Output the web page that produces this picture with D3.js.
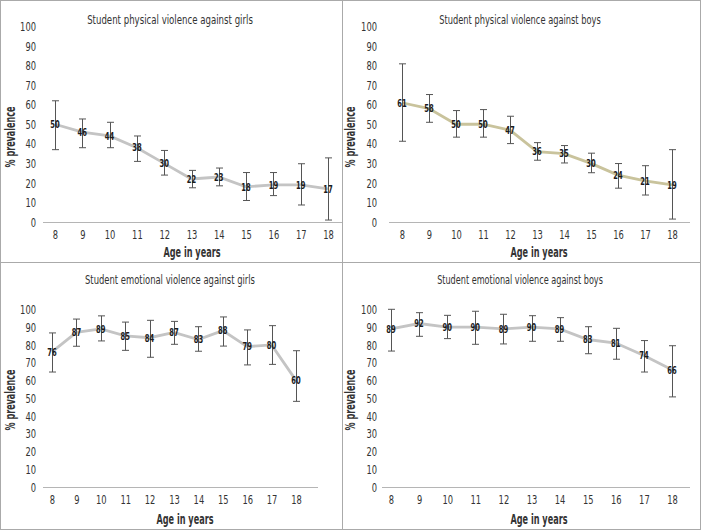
<!DOCTYPE html>
<html>
<head>
<meta charset="utf-8">
<script src="https://cdn.jsdelivr.net/npm/d3@7"></script>
<style>
  body { margin: 0; background: #fff; }
  svg { display: block; }
  text { font-family: 'Liberation Sans Narrow', 'DejaVu Sans Condensed', 'Roboto', sans-serif; }
</style>
</head>
<body>
<svg id="chart" width="701" height="530"></svg>
<script>
// ---- Data ----
const ages = ["8", "9", "10", "11", "12", "13", "14", "15", "16", "17", "18"];
const yTicks = [0, 10, 20, 30, 40, 50, 60, 70, 80, 90, 100];

const titles = [
  "Student physical violence against girls",
  "Student physical violence against boys",
  "Student emotional violence against girls",
  "Student emotional violence against boys"
];

const physGirls      = [50, 46, 44, 38, 30, 22, 23, 18, 19, 19, 17];
const physGirlsLow   = [37, 38, 38, 31, 24, 17.5, 18.5, 11, 13.5, 8.7, 1];
const physGirlsHigh  = [62, 52.7, 51, 44, 36.6, 26.4, 27.6, 25.3, 25.3, 29.8, 32.8];

const physBoys       = [61, 58, 50, 50, 47, 36, 35, 30, 24, 21, 19];
const physBoysLow    = [41.3, 51, 43.4, 43.4, 40.1, 31.6, 30.2, 25.2, 17.3, 13.8, 1.5];
const physBoysHigh   = [80.9, 65.2, 57, 57.5, 54.1, 40.6, 39.1, 35.2, 29.9, 28.8, 37];

const emoGirls       = [76, 87, 89, 85, 84, 87, 83, 88, 79, 80, 60];
const emoGirlsLow    = [64.7, 79.2, 82.2, 76.9, 73, 80.3, 76.4, 79.3, 68.7, 69, 48.2];
const emoGirlsHigh   = [86.7, 94.5, 96.3, 92.8, 93.8, 93.2, 90.2, 95.7, 88.4, 90.8, 76.7];

const emoBoys        = [89, 92, 90, 90, 89, 90, 89, 83, 81, 74, 66];
const emoBoysLow     = [76.5, 84.8, 83.5, 80.3, 80.5, 82, 82, 75, 71.9, 64.7, 50.7];
const emoBoysHigh    = [100, 98.1, 96.6, 98.9, 97.2, 96.4, 95.3, 90.2, 89.3, 82.4, 79.5];

const seriesValues = [physGirls, physBoys, emoGirls, emoBoys];
const seriesLow    = [physGirlsLow, physBoysLow, emoGirlsLow, emoBoysLow];
const seriesHigh   = [physGirlsHigh, physBoysHigh, emoGirlsHigh, emoBoysHigh];
const lineColors   = ["#c4c4c4", "#c9c39c", "#c4c4c4", "#c4c4c4"];

// ---- Layout (per panel) ----
const layouts = [
  { x0: 55,  x1: 328, y0: 222, y100: 26.5, axisL: 43,  axisR: 343, tickR: 36,  title: [170, 19],  xTitle: [192, 252], yTitle: [15, 137] },
  { x0: 402, x1: 672, y0: 222, y100: 26.5, axisL: 389, axisR: 690, tickR: 377, title: [520, 19],  xTitle: [539, 252], yTitle: [355, 137] },
  { x0: 52,  x1: 296, y0: 487, y100: 309.3, axisL: 43, axisR: 318, tickR: 36,  title: [170, 279], xTitle: [185, 519], yTitle: [15, 400] },
  { x0: 391, x1: 672, y0: 487, y100: 309.3, axisL: 382, axisR: 690, tickR: 377, title: [520, 279], xTitle: [539, 519], yTitle: [355, 400] }
];

const FONT = "'Liberation Sans Narrow', 'DejaVu Sans Condensed', sans-serif";
const svg = d3.select("#chart");

function squeeze(sel, perChar) {
  sel.each(function () {
    const t = d3.select(this);
    const n = t.text().length;
    t.attr("textLength", n * perChar).attr("lengthAdjust", "spacingAndGlyphs");
  });
}

layouts.forEach((L, i) => {
  const g = svg.append("g");
  const x = d3.scalePoint().domain(ages).range([L.x0, L.x1]);
  const y = d3.scaleLinear().domain([0, 100]).range([L.y0, L.y100]);

  // title
  g.append("text").attr("x", L.title[0]).attr("y", L.title[1] + 5)
    .attr("text-anchor", "middle").attr("font-size", 13).attr("fill", "#333")
    .text(titles[i])
    .call(s => squeeze(s, 4.25));

  // y axis (labels only)
  const ya = g.append("g").attr("transform", `translate(${L.tickR},0)`)
    .call(d3.axisLeft(y).tickValues(yTicks).tickSize(0).tickPadding(0));
  ya.select(".domain").remove();
  ya.selectAll("text").attr("font-size", 13).attr("fill", "#333")
    .style("font-family", FONT).call(s => squeeze(s, 5.3));

  // x axis
  const xa = g.append("g").attr("transform", `translate(0,${L.y0})`)
    .call(d3.axisBottom(x).tickSize(0).tickPadding(8));
  xa.select(".domain").remove();
  xa.selectAll("text").attr("font-size", 13).attr("fill", "#333")
    .style("font-family", FONT).call(s => squeeze(s, 5.3));
  g.append("line").attr("x1", L.axisL).attr("x2", L.axisR)
    .attr("y1", L.y0 + 0.5).attr("y2", L.y0 + 0.5)
    .attr("stroke", "#b5b5b5").attr("stroke-width", 1);

  // axis titles
  g.append("text").attr("x", L.xTitle[0]).attr("y", L.xTitle[1] + 5)
    .attr("text-anchor", "middle").attr("font-size", 13.5).attr("font-weight", "bold")
    .attr("fill", "#333").text("Age in years")
    .attr("textLength", 57).attr("lengthAdjust", "spacingAndGlyphs");
  g.append("text")
    .attr("transform", `translate(${L.yTitle[0]},${L.yTitle[1]}) rotate(-90)`)
    .attr("text-anchor", "middle").attr("font-size", 13.5).attr("font-weight", "bold")
    .attr("fill", "#333").text("% prevalence")
    .attr("textLength", 61).attr("lengthAdjust", "spacingAndGlyphs");

  const vals = seriesValues[i], lo = seriesLow[i], hi = seriesHigh[i];
  const data = ages.map((a, k) => ({ a, v: vals[k], lo: lo[k], hi: hi[k] }));

  // line
  g.append("path").datum(data)
    .attr("fill", "none").attr("stroke", lineColors[i]).attr("stroke-width", 2.8)
    .attr("d", d3.line().x(d => x(d.a)).y(d => y(d.v)));

  // error bars
  const eb = g.append("g").attr("stroke", "#555").attr("stroke-width", 1);
  data.forEach(d => {
    const cx = Math.round(x(d.a)) + 0.5;
    eb.append("line").attr("x1", cx).attr("x2", cx).attr("y1", y(d.lo)).attr("y2", y(d.hi));
    eb.append("line").attr("x1", cx - 3.5).attr("x2", cx + 3.5).attr("y1", y(d.lo)).attr("y2", y(d.lo));
    eb.append("line").attr("x1", cx - 3.5).attr("x2", cx + 3.5).attr("y1", y(d.hi)).attr("y2", y(d.hi));
  });

  // data labels
  const lg = g.append("g").attr("opacity", 0.99);
  const lbl = lg.selectAll(".lbl").data(data).enter().append("g")
    .attr("transform", d => `translate(${x(d.a)},${y(d.v)}) scale(0.72,1)`);
  lbl.append("text")
    .attr("dy", "0.36em").attr("text-anchor", "middle")
    .attr("font-size", 10.5).attr("font-weight", "bold").attr("fill", "#1a1a1a")
    .style("font-family", "'DejaVu Sans Condensed', sans-serif")
    .text(d => d.v);
});

// panel borders
const borders = svg.append("g").attr("stroke", "#aaa").attr("stroke-width", 1).attr("fill", "none");
borders.append("rect").attr("x", 0.5).attr("y", 0.5).attr("width", 700).attr("height", 529);
borders.append("line").attr("x1", 342.5).attr("x2", 342.5).attr("y1", 0).attr("y2", 530);
borders.append("line").attr("x1", 0).attr("x2", 701).attr("y1", 262.5).attr("y2", 262.5);
</script>
</body>
</html>
